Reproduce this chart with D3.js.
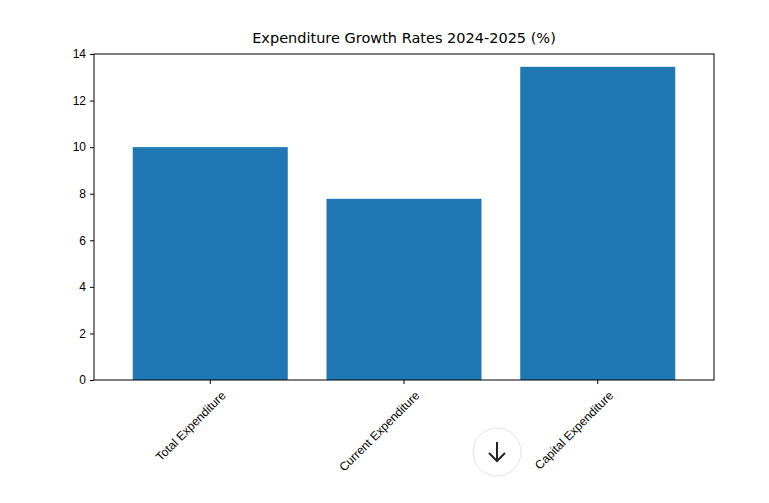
<!DOCTYPE html>
<html><head><meta charset="utf-8">
<script src="https://cdn.jsdelivr.net/npm/d3@7"></script>
<style>body{margin:0;background:#fff}svg{font-family:"DejaVu Sans",sans-serif}</style>
</head><body><svg id="c" width="769" height="503"></svg>
<script>
const categories = ["Total Expenditure", "Current Expenditure", "Capital Expenditure"];
const values = [10.0, 7.78, 13.45];
const yTicks = [0, 2, 4, 6, 8, 10, 12, 14];

const svg = d3.select("#c");
const m = {left: 94, right: 714, top: 54, bottom: 380};
const x = d3.scaleBand().domain(categories).range([m.left, m.right]).paddingInner(0.2).paddingOuter(0.2);
const y = d3.scaleLinear().domain([0, 14]).range([m.bottom, m.top]);

svg.selectAll("rect.bar").data(values).join("rect")
    .attr("class", "bar")
    .attr("x", (d, i) => x(categories[i]))
    .attr("width", x.bandwidth())
    .attr("y", d => y(d))
    .attr("height", d => y(0) - y(d))
    .attr("fill", "#1f77b4");

let ya = svg.append("g").attr("transform", `translate(${m.left},0)`)
    .call(d3.axisLeft(y).tickValues(yTicks).tickSize(4).tickPadding(4));
ya.select(".domain").remove();
ya.selectAll("text").attr("font-size", 12).attr("fill", "#000");

let xa = svg.append("g").attr("transform", `translate(0,${m.bottom})`)
    .call(d3.axisBottom(x).tickSize(4).tickPadding(2));
xa.select(".domain").remove();
xa.selectAll("text").attr("font-size", 12).attr("fill", "#000")
    .attr("text-anchor", "end").attr("dy", "0.7em")
    .attr("transform", "translate(6,6) rotate(-45)");

svg.append("rect").attr("x", m.left).attr("y", m.top)
    .attr("width", m.right - m.left).attr("height", m.bottom - m.top)
    .attr("fill", "none").attr("stroke", "#000").attr("stroke-width", 1);

svg.append("text").attr("x", (m.left + m.right) / 2).attr("y", 43)
    .attr("text-anchor", "middle").attr("font-size", 14.5)
    .text("Expenditure Growth Rates 2024-2025 (%)");

// overlay scroll button
const b = svg.append("g").attr("transform", "translate(497,452)");
b.append("circle").attr("r", 24).attr("fill", "#fff").attr("stroke", "#e3e3e3");
b.append("path").attr("d", "M0,-10V9M-8,1L0,9L8,1").attr("fill", "none")
    .attr("stroke", "#222").attr("stroke-width", 2);
</script></body></html>
